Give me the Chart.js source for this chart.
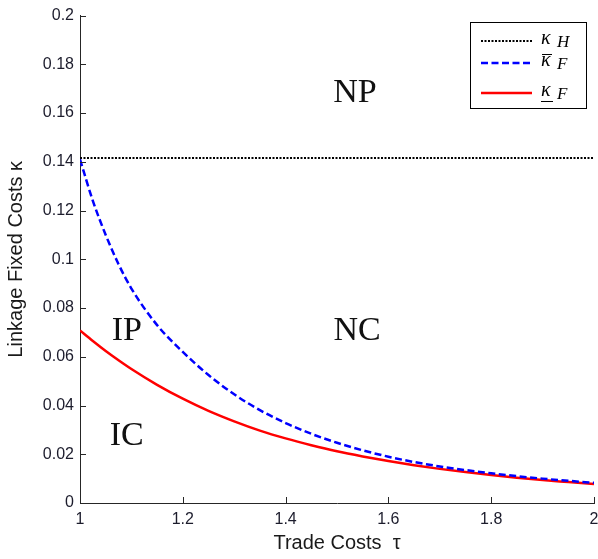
<!DOCTYPE html>
<html>
<head>
<meta charset="utf-8">
<script src="https://cdn.jsdelivr.net/npm/chart.js@4/dist/chart.umd.min.js"></script>
<style>
	html, body { margin: 0; padding: 0; background: #fff; overflow: hidden; }
	#wrap { width: 598px; height: 559px; }
</style>
</head>
<body>
<div id="wrap"><canvas id="kappa-chart"></canvas></div>
<script>
// trade costs on the x axis
const tau = [1, 1.025, 1.05, 1.075, 1.1, 1.15, 1.2, 1.25, 1.3, 1.35, 1.4, 1.45, 1.5, 1.55, 1.6, 1.65, 1.7, 1.75, 1.8, 1.85, 1.9, 1.95, 2];
// upper threshold (blue dashed)
const kappaFBar = [0.141, 0.124, 0.110, 0.098, 0.088, 0.073, 0.062, 0.0525, 0.0446, 0.0381, 0.0328, 0.0284, 0.0247, 0.0216, 0.019, 0.0168, 0.015, 0.0135, 0.0122, 0.011, 0.01, 0.0091, 0.0083];
// lower threshold (red solid)
const kappaFUnder = [0.0708, 0.0665, 0.0624, 0.0586, 0.055, 0.0485, 0.0428, 0.0378, 0.0335, 0.0297, 0.0265, 0.0237, 0.0212, 0.0191, 0.0172, 0.0155, 0.014, 0.0127, 0.0115, 0.0104, 0.0094, 0.0086, 0.0078];
// home threshold (black dotted, flat)
const tauH = [1, 2];
const kappaH = [0.1416, 0.1416];

const xTicks = [1, 1.2, 1.4, 1.6, 1.8, 2];
const yTicks = [0, 0.02, 0.04, 0.06, 0.08, 0.1, 0.12, 0.14, 0.16, 0.18, 0.2];

// region labels inside the plot
const regionNames = ['NP', 'IP', 'NC', 'IC'];
const regionTau = [1.535, 1.091, 1.539, 1.091];
const regionKappa = [0.169, 0.0713, 0.0713, 0.0283];

// legend entries: subscript and mark on kappa
const legendSub = ['H', 'F', 'F'];
const legendMark = ['', 'bar', 'under'];

const pts = (xs, ys) => xs.map((x, i) => ({x: x, y: ys[i]}));

const tickFont = {family: 'Arial, "Liberation Sans", sans-serif', size: 16};
const titleFont = {family: 'Arial, "Liberation Sans", sans-serif', size: 20};

// inward ticks, region names and the boxed legend
const extras = {
	id: 'extras',
	afterDraw(chart) {
		const {ctx, scales: {x, y}} = chart;
		const area = chart.chartArea;
		ctx.save();
		ctx.strokeStyle = '#262626';
		ctx.lineWidth = 1;
		ctx.beginPath();
		xTicks.forEach(v => {
			const px = Math.round(x.getPixelForValue(v)) + 0.5;
			ctx.moveTo(px, area.bottom);
			ctx.lineTo(px, area.bottom - 6);
		});
		yTicks.forEach(v => {
			const py = Math.round(y.getPixelForValue(v)) + 0.5;
			ctx.moveTo(area.left, py);
			ctx.lineTo(area.left + 6, py);
		});
		ctx.stroke();

		ctx.fillStyle = '#111';
		ctx.font = '34px "Liberation Serif", "Times New Roman", serif';
		ctx.textAlign = 'center';
		ctx.textBaseline = 'alphabetic';
		regionNames.forEach((name, i) => {
			ctx.fillText(name, x.getPixelForValue(regionTau[i]), y.getPixelForValue(regionKappa[i]) + 11);
		});

		// legend box
		const bx = 470.5, by = 22.5, bw = 116, bh = 86;
		ctx.fillStyle = '#fff';
		ctx.fillRect(bx, by, bw, bh);
		ctx.strokeStyle = '#000';
		ctx.strokeRect(bx, by, bw, bh);
		const rows = [41, 63, 93];
		const order = [2, 0, 1]; // dataset index for each legend row
		ctx.textAlign = 'left';
		rows.forEach((ry, i) => {
			const ds = chart.data.datasets[order[i]];
			ctx.save();
			ctx.strokeStyle = ds.borderColor;
			ctx.lineWidth = ds.borderWidth;
			ctx.setLineDash(ds.borderDash || []);
			ctx.beginPath();
			ctx.moveTo(481, ry);
			ctx.lineTo(532, ry);
			ctx.stroke();
			ctx.restore();
			ctx.fillStyle = '#000';
			ctx.font = 'italic 20px "Liberation Serif", "Times New Roman", serif';
			ctx.fillText('κ', 541, ry + 3);
			ctx.font = 'italic 17px "Liberation Serif", "Times New Roman", serif';
			ctx.fillText(legendSub[i], 557, ry + 6);
			ctx.strokeStyle = '#000';
			ctx.lineWidth = 1;
			if (legendMark[i] === 'bar') {
				ctx.beginPath();
				ctx.moveTo(542, ry - 8.5);
				ctx.lineTo(552, ry - 8.5);
				ctx.stroke();
			}
			if (legendMark[i] === 'under') {
				ctx.beginPath();
				ctx.moveTo(541, ry + 8.5);
				ctx.lineTo(553, ry + 8.5);
				ctx.stroke();
			}
		});
		ctx.restore();
	}
};

new Chart(document.getElementById('kappa-chart'), {
	type: 'line',
	data: {
		datasets: [{
			label: 'kappa F bar',
			data: pts(tau, kappaFBar),
			borderColor: '#0000ff',
			borderWidth: 2.5,
			borderDash: [7, 3.5],
			pointRadius: 0,
			cubicInterpolationMode: 'monotone',
		}, {
			label: 'kappa F under',
			data: pts(tau, kappaFUnder),
			borderColor: '#ff0000',
			borderWidth: 2.5,
			pointRadius: 0,
			cubicInterpolationMode: 'monotone',
		}, {
			label: 'kappa H',
			data: pts(tauH, kappaH),
			borderColor: '#000000',
			borderWidth: 2,
			borderDash: [2, 1.5],
			pointRadius: 0,
		}]
	},
	options: {
		responsive: true,
		maintainAspectRatio: false,
		animation: false,
		layout: {padding: {top: 14, right: 4, left: 0, bottom: 0}},
		plugins: {legend: {display: false}, tooltip: {enabled: false}},
		scales: {
			x: {
				type: 'linear',
				min: 1, max: 2,
				afterBuildTicks: (s) => { s.ticks = xTicks.map(v => ({value: v})); },
				afterFit: (s) => { s.height = 56; s.paddingRight = 0; s.paddingLeft = 0; },
				ticks: {
					font: tickFont, color: '#1c1c2c', padding: 7, maxRotation: 0,
					callback: (v) => String(+v.toFixed(2)),
				},
				grid: {drawOnChartArea: false, drawTicks: false},
				border: {color: '#262626', width: 1},
				title: {display: true, text: 'Trade Costs  τ', font: titleFont, color: '#1a1a1a', padding: {top: 2}},
			},
			y: {
				min: 0, max: 0.2,
				afterBuildTicks: (s) => { s.ticks = yTicks.map(v => ({value: v})); },
				afterFit: (s) => { s.width = 80; },
				ticks: {
					font: tickFont, color: '#1c1c2c', padding: 6,
					callback: (v) => String(+v.toFixed(2)),
				},
				grid: {drawOnChartArea: false, drawTicks: false},
				border: {color: '#262626', width: 1},
				title: {display: true, text: 'Linkage Fixed Costs κ', font: titleFont, color: '#1a1a1a', padding: {top: 4, bottom: 0}},
			},
		},
	},
	plugins: [extras],
});
</script>
</body>
</html>
